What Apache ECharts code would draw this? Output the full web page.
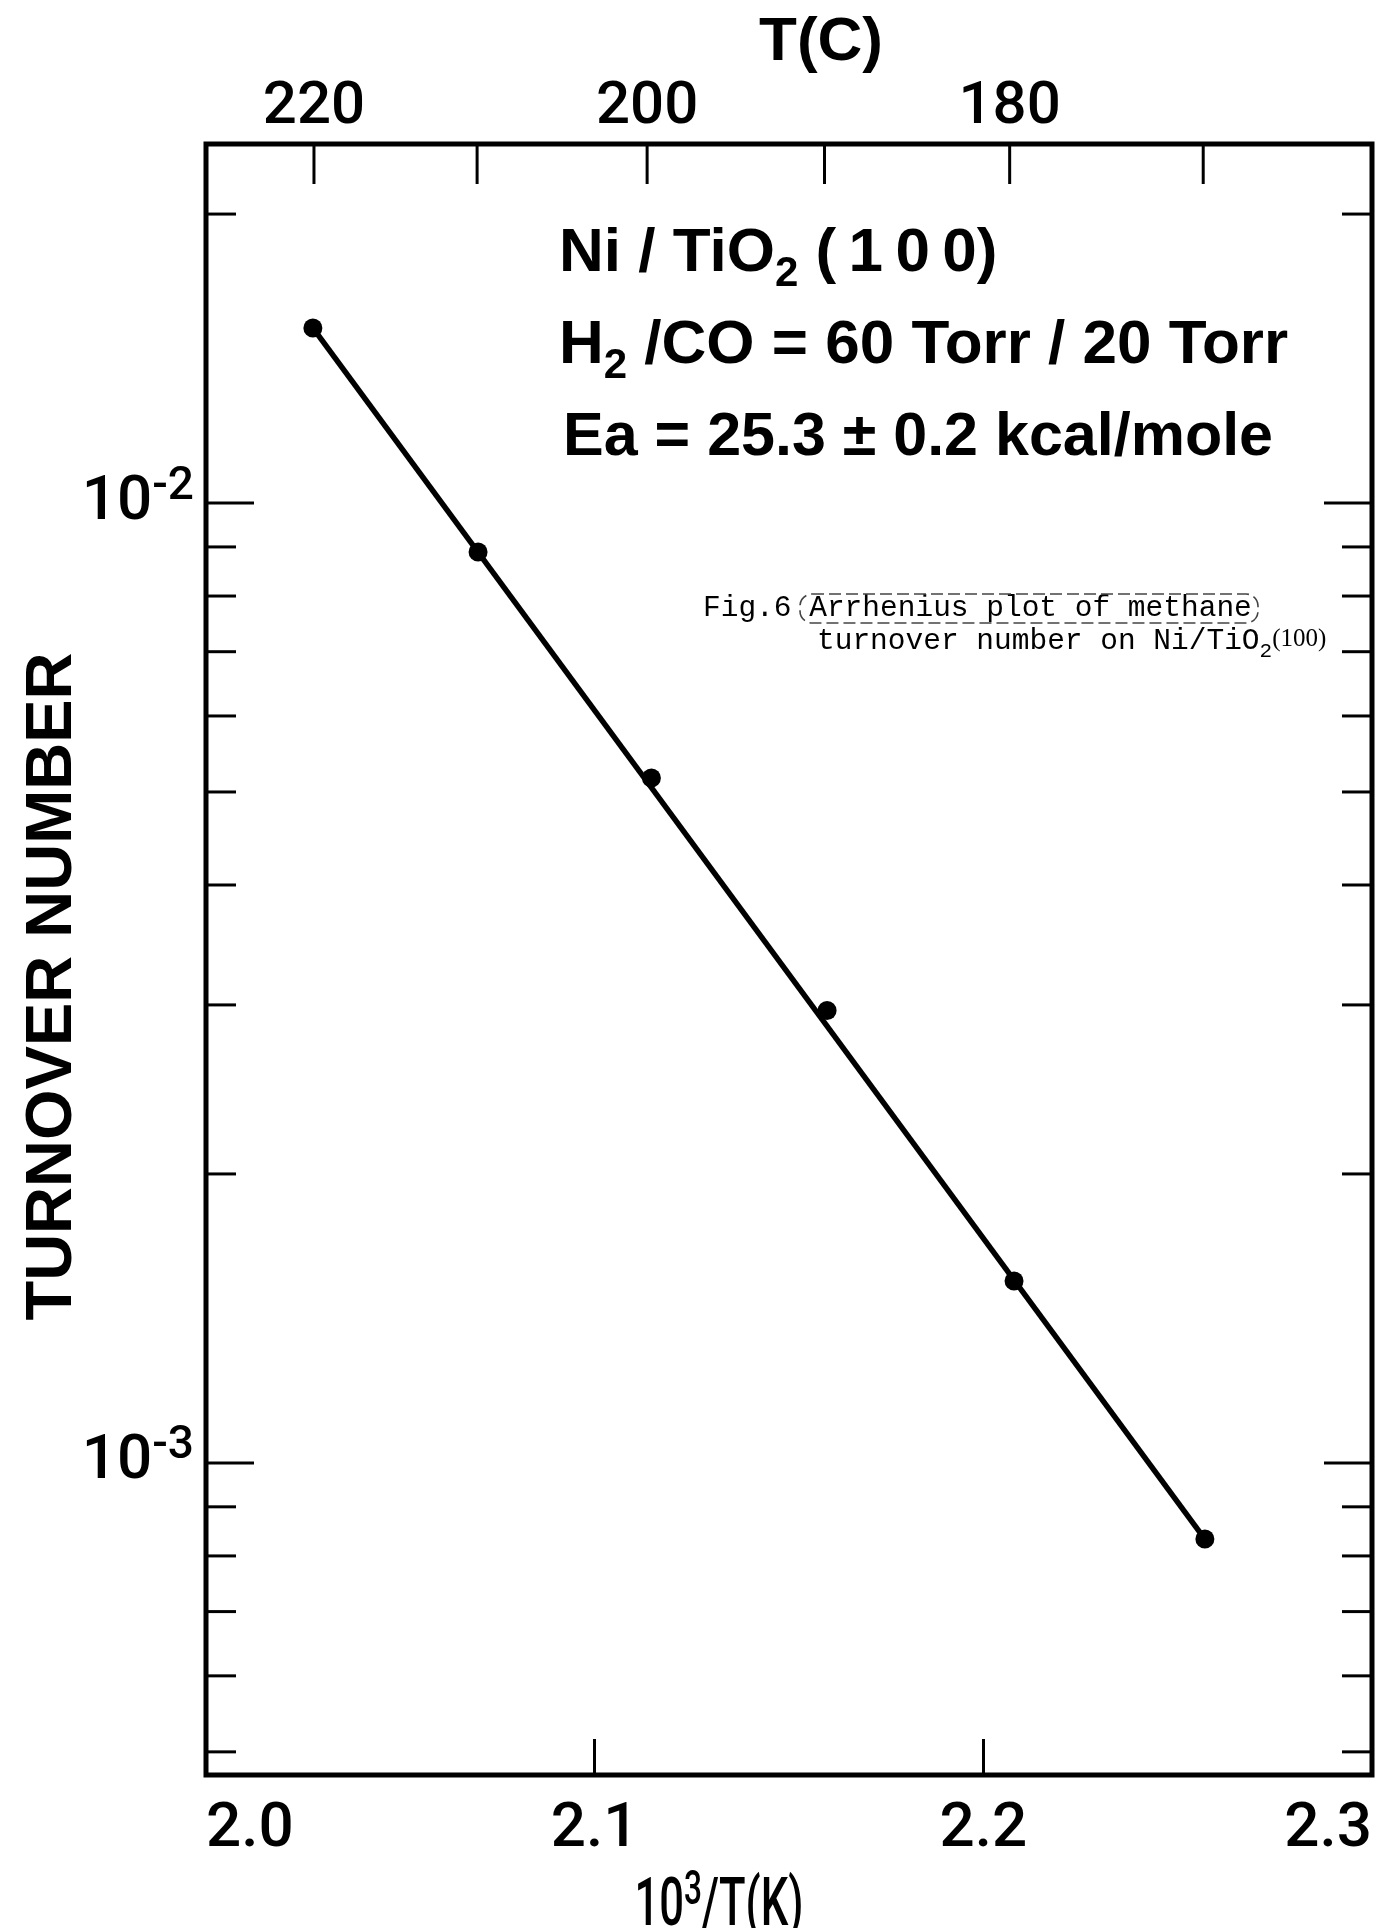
<!DOCTYPE html>
<html>
<head>
<meta charset="utf-8">
<title>Arrhenius plot</title>
<script src="https://cdn.jsdelivr.net/npm/echarts@6/dist/echarts.min.js"></script>
<style>
  html, body { margin: 0; padding: 0; background: #fff; }
  #chart { width: 1383px; height: 1928px; }
</style>
</head>
<body>
<div id="chart"></div>
<script>
// data: 10^3/T(K) and turnover number
const invT = [2.0275, 2.0700, 2.1146, 2.1598, 2.2079, 2.2570];
const turnover = [0.01522, 0.00889, 0.00517, 0.00296, 0.001547, 0.000833];
// straight fit line, drawn from the first to the last point
const fitX = [2.0275, 2.2570];
const fitY = [0.01522, 0.000833];
// top axis, temperature in celsius
const celsiusTicks = [220, 210, 200, 190, 180, 170];
const celsiusLabels = [220, 200, 180];
// ticks of the log axis (both sides)
const logTicks = [0.02, 0.01, 0.009, 0.008, 0.007, 0.006, 0.005, 0.004, 0.003, 0.002,
                  0.001, 0.0009, 0.0008, 0.0007, 0.0006, 0.0005];

const X_MIN = 2.0, X_MAX = 2.3;
const Y_MIN = 4.73e-4, Y_MAX = 0.02366;

const sans = '"Liberation Sans", Arial, sans-serif';
const medium = 'Roboto, "Liberation Sans", Arial, sans-serif';
const mono = '"Liberation Mono", "Courier New", monospace';
const serif = '"Liberation Serif", serif';

function isDecade(v) {
  const e = Math.log10(v);
  return Math.abs(e - Math.round(e)) < 1e-6;
}

let chart = echarts.init(document.getElementById('chart'));

let option = {
  animation: false,
  backgroundColor: '#fff',
  grid: {
    left: 206, right: 11, top: 144, bottom: 153,
    outerBoundsMode: 'none',
    show: true, borderColor: '#000', borderWidth: 5
  },
  xAxis: {
    type: 'value',
    min: X_MIN, max: X_MAX, interval: 0.1,
    axisLine: { show: false },
    splitLine: { show: false },
    axisTick: { show: true, inside: true, length: 36, lineStyle: { color: '#000', width: 3 } },
    axisLabel: {
      color: '#000', fontFamily: medium, fontWeight: 500, fontSize: 62, margin: 24,
      alignMinLabel: 'left', alignMaxLabel: 'right',
      formatter: v => v.toFixed(1)
    }
  },
  yAxis: {
    type: 'log', logBase: 10,
    min: Y_MIN, max: Y_MAX,
    axisLine: { show: false },
    splitLine: { show: false },
    axisTick: { show: false },
    axisLabel: {
      margin: 12,
      formatter: v => isDecade(v) ? '{b|10}{s|' + Math.round(Math.log10(v)) + '}' : '',
      rich: {
        b: { fontFamily: medium, fontWeight: 500, fontSize: 62, color: '#000' },
        s: { fontFamily: medium, fontWeight: 500, fontSize: 46, color: '#000', padding: [0, 0, 32, 0] }
      }
    },
    name: 'TURNOVER NUMBER',
    nameLocation: 'middle',
    nameRotate: 90,
    nameGap: 120,
    nameMoveOverlap: false,
    nameTextStyle: {
      fontFamily: sans, fontSize: 65, fontWeight: 'bold', color: '#000',
      padding: [0, 54, 0, 0]
    }
  },
  graphic: [
    {
      type: 'text', x: 821, y: 43,
      style: { text: 'T(C)', fontFamily: sans, fontSize: 62, fontWeight: 'bold', fill: '#000',
               align: 'center', verticalAlign: 'middle' }
    },
    {
      // x axis title, narrowed like the lettering of the original
      type: 'text', x: 719, y: 1908, scaleX: 0.66,
      style: {
        text: '{b|10}{s|3}{b|/T(K)}', align: 'center', verticalAlign: 'middle',
        rich: {
          b: { fontFamily: medium, fontWeight: 500, fontSize: 66, fill: '#000' },
          s: { fontFamily: medium, fontWeight: 500, fontSize: 48, fill: '#000', padding: [0, 0, 32, 0] }
        }
      }
    },
    {
      type: 'text', x: 559, y: 254,
      style: {
        text: '{a|Ni / TiO}{s|2}{a| (\u20091\u20090\u20090)}', align: 'left', verticalAlign: 'middle',
        rich: {
          a: { fontFamily: sans, fontSize: 62, fontWeight: 'bold', fill: '#000' },
          s: { fontFamily: sans, fontSize: 42, fontWeight: 'bold', fill: '#000', padding: [40, 0, 0, 0] }
        }
      }
    },
    {
      type: 'text', x: 559, y: 346,
      style: {
        text: '{a|H}{s|2}{a| /CO = 60 Torr / 20 Torr}', align: 'left', verticalAlign: 'middle',
        rich: {
          a: { fontFamily: sans, fontSize: 62, fontWeight: 'bold', fill: '#000' },
          s: { fontFamily: sans, fontSize: 42, fontWeight: 'bold', fill: '#000', padding: [40, 0, 0, 0] }
        }
      }
    },
    {
      type: 'text', x: 563, y: 438,
      style: { text: 'Ea = 25.3 ± 0.2 kcal/mole', fontFamily: sans, fontSize: 61, fontWeight: 'bold',
               fill: '#000', align: 'left', verticalAlign: 'middle' }
    },
    {
      type: 'text', x: 703, y: 608,
      style: { text: 'Fig.6 Arrhenius plot of methane', fontFamily: mono, fontSize: 29.5,
               fill: '#000', align: 'left', verticalAlign: 'middle' }
    },
    {
      type: 'text', x: 817, y: 641,
      style: {
        text: '{m|turnover number on Ni/TiO}{s|2}{p|(100)}', align: 'left', verticalAlign: 'middle',
        rich: {
          m: { fontFamily: mono, fontSize: 29.5, fill: '#000' },
          s: { fontFamily: mono, fontSize: 21, fill: '#000', padding: [20, 0, 0, 0] },
          p: { fontFamily: serif, fontSize: 25, fill: '#000', padding: [0, 0, 4, 0] }
        }
      }
    },
    {
      // pen scribble round the caption words
      type: 'rect', shape: { x: 800, y: 594, width: 458, height: 29, r: 12 },
      style: { fill: 'none', stroke: '#444', lineWidth: 1.6, lineDash: [12, 5] }
    }
  ],
  series: [
    {
      // ticks on the left and right frame
      type: 'custom',
      silent: true,
      data: logTicks.map(v => [X_MIN, v]),
      renderItem(params, api) {
        const v = api.value(1);
        const y = api.coord([X_MIN, v])[1];
        const cs = params.coordSys;
        const len = isDecade(v) ? 48 : 30;
        const st = { stroke: '#000', lineWidth: 3 };
        return {
          type: 'group',
          children: [
            { type: 'line', shape: { x1: cs.x, y1: y, x2: cs.x + len, y2: y }, style: st },
            { type: 'line', shape: { x1: cs.x + cs.width, y1: y, x2: cs.x + cs.width - len, y2: y }, style: st }
          ]
        };
      }
    },
    {
      // top celsius axis, placed at 1000/(C+273.15)
      type: 'custom',
      silent: true,
      data: celsiusTicks.map(c => [1000 / (c + 273.15), Y_MAX, c]),
      renderItem(params, api) {
        const p = api.coord([api.value(0), Y_MAX]);
        const c = api.value(2);
        const top = params.coordSys.y;
        const children = [
          { type: 'line', shape: { x1: p[0], y1: top, x2: p[0], y2: top + 40 },
            style: { stroke: '#000', lineWidth: 3 } }
        ];
        if (celsiusLabels.indexOf(c) >= 0) {
          children.push({
            type: 'text', x: p[0], y: top - 36,
            style: { text: String(c), fontFamily: medium, fontWeight: 500, fontSize: 60, fill: '#000',
                     align: 'center', verticalAlign: 'middle' }
          });
        }
        return { type: 'group', children: children };
      }
    },
    {
      type: 'line',
      data: fitX.map((x, i) => [x, fitY[i]]),
      symbol: 'none',
      lineStyle: { color: '#000', width: 5.5 },
      z: 3
    },
    {
      type: 'scatter',
      data: invT.map((x, i) => [x, turnover[i]]),
      symbol: 'circle',
      symbolSize: 19,
      itemStyle: { color: '#000', opacity: 1 },
      z: 4
    }
  ]
};

chart.setOption(option);
</script>
</body>
</html>
